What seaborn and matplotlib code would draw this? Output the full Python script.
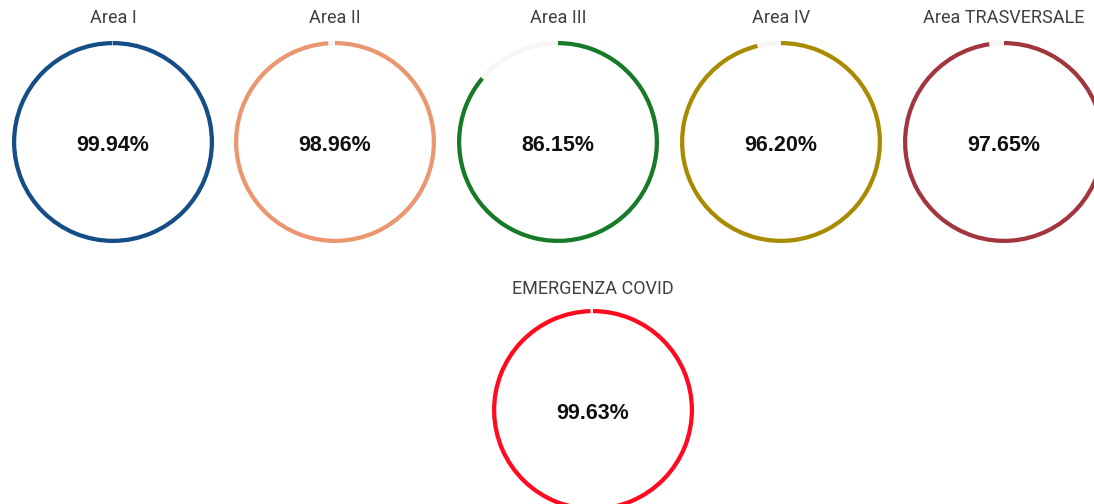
import matplotlib
matplotlib.use("Agg")
import matplotlib.pyplot as plt
import seaborn as sns

# values
areas = ["Area I", "Area II", "Area III", "Area IV", "Area TRASVERSALE", "EMERGENZA COVID"]
percent = [99.94, 98.96, 86.15, 96.20, 97.65, 99.63]
ring_colors = ["#154D86", "#EA9670", "#167A26", "#A88B00", "#A2363F", "#FF0A1E"]

sns.set_theme(style="white")
plt.rcParams['font.family'] = ['Roboto', 'DejaVu Sans']

W, H = 1094, 504
fig = plt.figure(figsize=(W / 100, H / 100), dpi=100)
fig.patch.set_facecolor("white")

# ring centers in pixels (from top-left), radius in pixels, title offset
centers = [(113, 142), (335, 142), (558, 142), (781, 142), (1004, 142), (593, 410)]
title_gap = [124, 124, 124, 124, 124, 121]
R = 101

for name, val, col, (cx, cy), tg in zip(areas, percent, ring_colors, centers, title_gap):
    ax = fig.add_axes([(cx - R) / W, (H - cy - R) / H, 2 * R / W, 2 * R / H])
    ax.pie([val, 100 - val], colors=[col, "#F6F6F6"], startangle=90,
           counterclock=False, radius=1,
           wedgeprops=dict(width=0.042, linewidth=0))
    ax.set_xlim(-1, 1)
    ax.set_ylim(-1, 1)
    ax.set_aspect("equal")
    ax.axis("off")
    ax.text(0, -0.035, f"{val:.2f}%", ha="center", va="center", fontsize=15.5,
            fontweight="bold", family=["Liberation Sans", "DejaVu Sans"], color="#111111")
    fig.text(cx / W, 1 - (cy - tg) / H, name, ha="center", va="center",
             fontsize=13, color="#404040")

fig.savefig("out.png", dpi=100, facecolor="white")
